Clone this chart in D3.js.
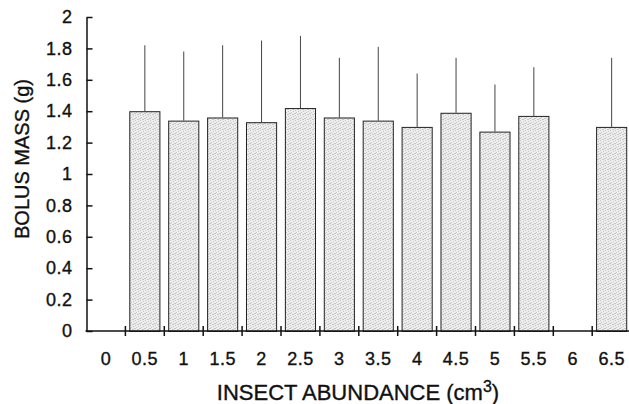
<!DOCTYPE html>
<html>
<head>
<meta charset="utf-8">
<script src="https://cdn.jsdelivr.net/npm/d3@7"></script>
<style>
  body { margin: 0; background: #fff; }
  svg { display: block; font-family: "Liberation Sans", Arial, Helvetica, sans-serif; }
  .lbl { fill: #111; stroke: #111; stroke-width: 0.35px; }
</style>
</head>
<body>
<div id="chart"></div>
<script>
// categories on the x axis (insect abundance, cm3)
const categories = ["0", "0.5", "1", "1.5", "2", "2.5", "3", "3.5", "4", "4.5", "5", "5.5", "6", "6.5"];
// mean bolus mass (g), null = no data
const means = [null, 1.40, 1.34, 1.36, 1.33, 1.42, 1.36, 1.34, 1.30, 1.39, 1.27, 1.37, null, 1.30];
// top of the error bar (mean + SD)
const errTops = [null, 1.82, 1.78, 1.82, 1.85, 1.88, 1.74, 1.81, 1.64, 1.74, 1.57, 1.68, null, 1.74];
const yTicks = [0, 0.2, 0.4, 0.6, 0.8, 1, 1.2, 1.4, 1.6, 1.8, 2];

const width = 629, height = 404;
const plotLeft = 86.5, plotBottom = 331, plotTop = 17;
const step = 38.9;

const svg = d3.select("#chart").append("svg")
    .attr("width", width)
    .attr("height", height);

// stippled grey fill like the print (scattered dots on a 5x5 tile)
const dots = [[0, 0], [3, 1], [1, 2], [4, 3], [2, 4], [0, 3], [3, 4]];
const pat = svg.append("defs").append("pattern")
    .attr("id", "stipple")
    .attr("width", 5).attr("height", 5)
    .attr("patternUnits", "userSpaceOnUse");
pat.append("rect").attr("width", 5).attr("height", 5).attr("fill", "#eeeeee");
pat.selectAll("rect.d")
  .data(dots)
  .join("rect")
    .attr("class", "d")
    .attr("x", d => d[0]).attr("y", d => d[1])
    .attr("width", 1).attr("height", 1)
    .attr("fill", "#c6c6c6");

const x = d3.scaleBand()
    .domain(categories)
    .range([plotLeft, plotLeft + step * categories.length])
    .paddingInner(0.2)
    .paddingOuter(0.1);

const y = d3.scaleLinear()
    .domain([0, 2])
    .range([plotBottom, plotTop]);

const data = categories.map((c, i) => ({ cat: c, mean: means[i], hi: errTops[i] }))
    .filter(d => d.mean != null);

// error bars (upper only)
svg.append("g")
  .selectAll("line")
  .data(data)
  .join("line")
    .attr("x1", d => x(d.cat) + x.bandwidth() / 2)
    .attr("x2", d => x(d.cat) + x.bandwidth() / 2)
    .attr("y1", d => y(d.mean))
    .attr("y2", d => y(d.hi))
    .attr("stroke", "#444")
    .attr("stroke-width", 1);

// bars
svg.append("g")
  .selectAll("rect")
  .data(data)
  .join("rect")
    .attr("x", d => x(d.cat) + 0.5)
    .attr("y", d => y(d.mean) + 0.5)
    .attr("width", x.bandwidth() - 1)
    .attr("height", d => y(0) - y(d.mean))
    .attr("fill", "url(#stipple)")
    .attr("stroke", "#222")
    .attr("stroke-width", 1);

// y axis: ticks point inward
const yAxis = svg.append("g")
    .attr("transform", `translate(${plotLeft},0)`)
    .call(d3.axisRight(y).tickValues(yTicks).tickSize(6).tickSizeOuter(0).tickFormat(d3.format("~g")));
yAxis.select(".domain").attr("stroke", "#111").attr("stroke-width", 1.5);
yAxis.selectAll(".tick line").attr("stroke", "#111").attr("stroke-width", 1.5);
yAxis.selectAll(".tick text")
    .attr("class", "lbl")
    .attr("x", -14)
    .attr("text-anchor", "end")
    .style("font-size", "18px")
    .style("letter-spacing", "0.5px");

// x axis: line with ticks at slot boundaries
const xg = svg.append("g");
xg.append("line")
    .attr("x1", plotLeft - 1).attr("x2", width)
    .attr("y1", plotBottom).attr("y2", plotBottom)
    .attr("stroke", "#111").attr("stroke-width", 1.5);
xg.selectAll("line.tk")
  .data(categories.slice(1))
  .join("line")
    .attr("class", "tk")
    .attr("x1", d => x(d) - x.step() * 0.1)
    .attr("x2", d => x(d) - x.step() * 0.1)
    .attr("y1", plotBottom - 5).attr("y2", plotBottom + 5)
    .attr("stroke", "#111").attr("stroke-width", 1.5);
xg.selectAll("text")
  .data(categories)
  .join("text")
    .attr("class", "lbl")
    .attr("x", d => x(d) + x.bandwidth() / 2)
    .attr("y", 365)
    .attr("text-anchor", "middle")
    .style("font-size", "18px")
    .style("letter-spacing", "0.5px")
    .text(d => d);

// axis titles
const xt = svg.append("text")
    .attr("class", "lbl")
    .attr("x", 358)
    .attr("y", 400)
    .attr("text-anchor", "middle")
    .style("font-size", "22px");
xt.append("tspan").text("INSECT ABUNDANCE (cm");
xt.append("tspan").attr("dy", -8).style("font-size", "16px").text("3");
xt.append("tspan").attr("dy", 8).text(")");

svg.append("text")
    .attr("class", "lbl")
    .attr("transform", "translate(29,159) rotate(-90)")
    .attr("text-anchor", "middle")
    .style("font-size", "20px")
    .text("BOLUS MASS (g)");
</script>
</body>
</html>
